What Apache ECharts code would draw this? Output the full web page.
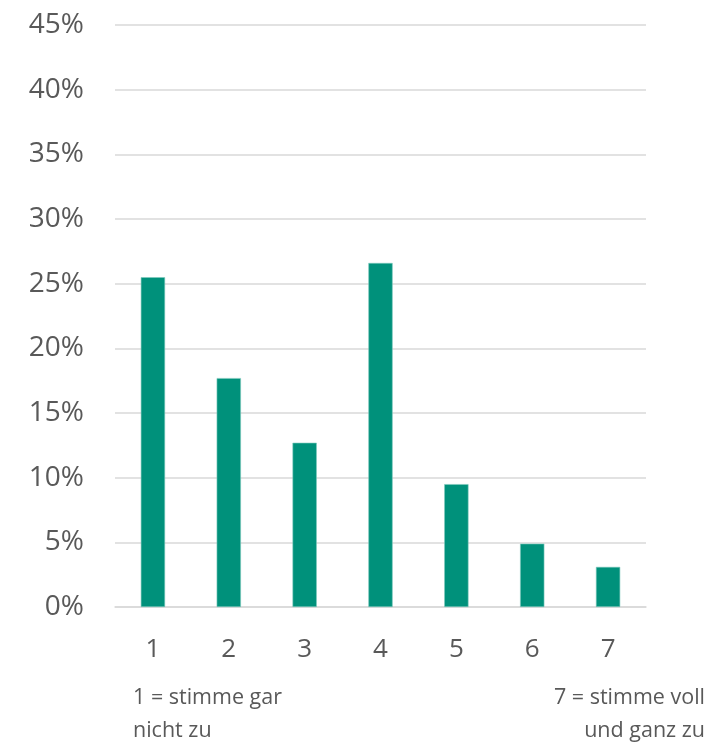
<!DOCTYPE html>
<html>
<head>
<meta charset="utf-8">
<script src="https://cdn.jsdelivr.net/npm/echarts@6/dist/echarts.min.js"></script>
<style>
  html, body { margin: 0; padding: 0; background: #fff; }
  #chart { width: 710px; height: 744px; }
</style>
</head>
<body>
<div id="chart"></div>
<script>
// Antwortskala 1..7, Anteile in Prozent
const categories = ['1', '2', '3', '4', '5', '6', '7'];
const shares = [25.5, 17.7, 12.7, 26.6, 9.5, 4.9, 3.1];
const leftNote = ['1 = stimme gar', 'nicht zu'];
const rightNote = ['7 = stimme voll', 'und ganz zu'];

const textColor = '#595959';
const fontFamily = '"Open Sans", "Noto Sans", sans-serif';
const noteFont = '21.5px ' + fontFamily;

const chart = echarts.init(document.getElementById('chart'));

// Anmerkungen unter der Achse, jede Zeile einzeln
const notes = [];
leftNote.forEach((line, i) => {
  notes.push({ type: 'text', left: 133, top: 687 + i * 33,
    style: { text: line, fill: textColor, font: noteFont } });
});
rightNote.forEach((line, i) => {
  notes.push({ type: 'text', right: 5, top: 687 + i * 33,
    style: { text: line, fill: textColor, font: noteFont } });
});

chart.setOption({
  backgroundColor: '#fff',
  animation: false,
  grid: { left: 115, right: 64, top: 25, bottom: 137 },
  xAxis: {
    type: 'category',
    data: categories,
    axisLine: { show: true, lineStyle: { color: '#d9d9d9', width: 1.5 } },
    axisTick: { show: false },
    axisLabel: { color: textColor, fontSize: 26, fontFamily: fontFamily, margin: 30 }
  },
  yAxis: {
    type: 'value',
    min: 0,
    max: 45,
    interval: 5,
    axisLine: { show: false },
    axisTick: { show: false },
    axisLabel: {
      color: textColor, fontSize: 28, fontFamily: fontFamily, margin: 31,
      formatter: v => v + '%'
    },
    splitLine: { lineStyle: { color: '#d9d9d9', width: 1.5 } }
  },
  series: [{
    type: 'bar',
    data: shares,
    barWidth: '32%',
    itemStyle: { color: '#00917b', borderColor: '#7fcabd', borderWidth: 0.6 }
  }],
  graphic: notes
});
</script>
</body>
</html>
